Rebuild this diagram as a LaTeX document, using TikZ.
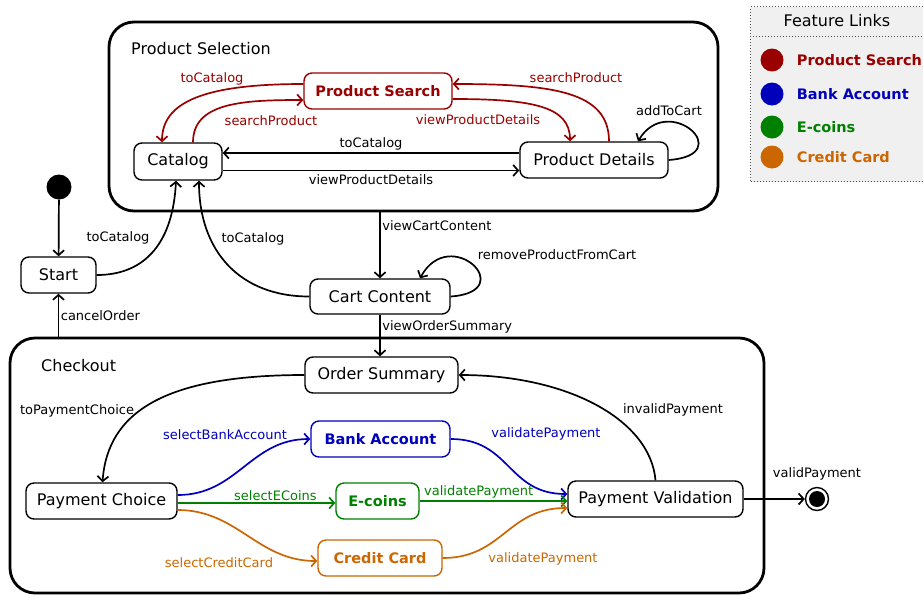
\documentclass[tikz,border=0pt]{standalone}
\usepackage{fontspec}
\setmainfont{DejaVu Sans}
\usepackage{xcolor}
\usetikzlibrary{positioning,arrows.meta}
\definecolor{psred}{HTML}{990000}
\definecolor{bankblue}{HTML}{0000BB}
\definecolor{coingreen}{HTML}{008000}
\definecolor{cardorange}{HTML}{CC6600}
\definecolor{legendgray}{HTML}{F0F0F0}

\begin{document}
\begin{tikzpicture}[
  x=1pt, y=-1pt,
  font=\fontsize{16}{19}\selectfont, >={Straight Barb[length=5pt,width=11pt]},
  state/.style={draw, rounded corners=8pt, line width=1.4pt,
                minimum height=36pt, inner sep=2pt, fill=white},
  feat/.style={state, draw=#1, text=#1,
               font=\fontsize{14.5}{17}\selectfont\bfseries},
  region/.style={draw, rounded corners=25pt, line width=2.8pt},
  title/.style={anchor=west, inner sep=0pt},
  lbl/.style={font=\fontsize{13}{15}\selectfont, inner sep=1.5pt},
  edge/.style={->, line width=1.7pt},
  legendbox/.style={draw=black!70, dotted, line width=1pt, fill=legendgray},
  key/.style={circle, minimum size=23pt, inner sep=0pt},
  keytext/.style={inner sep=1pt, font=\fontsize{14.5}{17}\selectfont\bfseries}
]
\useasboundingbox (0,0) rectangle (923,595);

\node[region, minimum width=609pt, minimum height=189pt] (sel) at (413.5,116.5) {};
\node[title] (seltitle) at (131,49) {Product Selection};
\node[region, minimum width=754pt, minimum height=255pt] (checkout) at (387,465.5) {};
\node[title] (checktitle) at (41,366) {Checkout};

\node[legendbox, anchor=north west, minimum width=180pt, minimum height=175pt]
  (legend) at (750,6) {};
\node (legendtitle) at (837,21) {Feature Links};
\draw[legendbox, fill=none] (750,36) -- (925,36);
\node[key, fill=psred] (key1) at (772,60) {};
\node[keytext, text=psred, right=12pt of key1] (keytext1) {Product Search};
\node[key, fill=bankblue] (key2) at (772,94) {};
\node[keytext, text=bankblue, right=12pt of key2] (keytext2) {Bank Account};
\node[key, fill=coingreen] (key3) at (772,127) {};
\node[keytext, text=coingreen, right=12pt of key3] (keytext3) {E-coins};
\node[key, fill=cardorange] (key4) at (772,157) {};
\node[keytext, text=cardorange, right=12pt of key4] (keytext4) {Credit Card};

\node[circle, fill, minimum size=25pt, inner sep=0pt] (init) at (59,187) {};
\node[state, minimum width=75pt] (start) at (58.5,275) {Start};
\node[state, minimum width=88pt, minimum height=37pt] (catalog) at (178,161.5) {Catalog};
\node[feat=psred, minimum width=148pt] (search) at (378,91) {Product Search};
\node[state, minimum width=148pt] (details) at (594,160) {Product Details};
\node[state, minimum width=140pt, minimum height=35pt] (cart) at (380,296.5) {Cart Content};
\node[state, minimum width=153pt] (order) at (381.5,375) {Order Summary};
\node[state, minimum width=151pt] (choice) at (101.5,501) {Payment Choice};
\node[feat=bankblue, minimum width=139pt] (bank) at (380.5,439) {Bank Account};
\node[feat=coingreen, minimum width=83pt] (ecoins) at (377.5,501) {E-coins};
\node[feat=cardorange, minimum width=124pt] (credit) at (380,558) {Credit Card};
\node[state, minimum width=175pt] (valid) at (655.5,499) {Payment Validation};
\node[circle, draw, line width=1.4pt, minimum size=23pt, inner sep=0pt] (final) at (817,499) {};
\node[circle, fill, minimum size=16pt, inner sep=0pt] (finaldot) at (final) {};

\draw[edge] (init) -- (start);
\draw[edge] (start.east) .. controls +(50,0) and +(-3,60) .. ([xshift=-2pt]catalog.south)
  node[lbl] at (118,238) {toCatalog};
\draw[edge] (cart.west) .. controls +(-70,0) and +(0,70) .. ([xshift=21pt]catalog.south)
  node[lbl] at (253,239) {toCatalog};
\draw[edge, psred] ([xshift=15pt]catalog.north) .. controls +(0,-40) and +(-60,0) .. ([yshift=-9pt]search.west)
  node[lbl] at (271,121) {searchProduct};
\draw[edge, psred] ([yshift=7pt]search.west) .. controls +(-100,0) and +(0,-40) .. ([xshift=-16pt]catalog.north)
  node[lbl] at (212,79) {toCatalog};
\draw[edge, psred] ([yshift=-8pt]search.east) .. controls +(80,0) and +(0,-35) .. ([xshift=-24pt]details.north)
  node[lbl] at (478,120) {viewProductDetails};
\draw[edge, psred] ([xshift=15pt]details.north) .. controls +(0,-50) and +(100,0) .. ([yshift=7pt]search.east)
  node[lbl] at (576,78) {searchProduct};
\draw[edge] ([yshift=7pt]details.west) -- node[lbl, above]{toCatalog}
  ([yshift=7pt]details.west -| catalog.east);
\draw[edge] ([yshift=-9pt]catalog.east) -- node[lbl, below, yshift=-2pt]{viewProductDetails}
  ([yshift=-9pt]catalog.east -| details.west);
\draw[edge] (details.east) .. controls +(70,-5) and +(30,-50) .. ([xshift=44pt]details.north)
  node[lbl] at (669,111) {addToCart};

\draw[edge] (sel.south -| cart.north) -- node[lbl, pos=.2, right]{viewCartContent} (cart.north);
\draw[edge] (cart.east) .. controls +(70,-5) and +(30,-55) .. ([xshift=40pt]cart.north)
  node[lbl] at (557,255) {removeProductFromCart};
\draw[edge] (cart.south) -- node[lbl, pos=.3, right]{viewOrderSummary} (cart.south |- order.north);
\draw[edge] (checkout.north -| start) -- node[lbl, right]{cancelOrder} (start.south);

\draw[edge] (order.west) .. controls +(-140,0) and +(5,-70) .. ([xshift=1pt]choice.north)
  node[lbl] at (77,411) {toPaymentChoice};
\draw[edge, bankblue] ([yshift=6pt]choice.east) .. controls +(60,0) and +(-60,0) .. (bank.west)
  node[lbl] at (225,435) {selectBankAccount};
\draw[edge, coingreen] ([yshift=-2pt]choice.east) -- node[lbl, above, pos=.62]{selectECoins}
  ([yshift=-2pt]choice.east -| ecoins.west);
\draw[edge, cardorange] ([yshift=-9pt]choice.east) .. controls +(60,0) and +(-60,0) .. ([yshift=-3pt]credit.west)
  node[lbl] at (219,563) {selectCreditCard};
\draw[edge, bankblue] (bank.east) .. controls +(60,0) and +(-60,0) .. ([yshift=5pt]valid.west)
  node[lbl] at (546,434) {validatePayment};
\draw[edge, coingreen] (ecoins.east) -- node[lbl, above, pos=.4]{validatePayment}
  (ecoins.east -| valid.west);
\draw[edge, cardorange] (credit.east) .. controls +(60,0) and +(-60,0) .. ([yshift=-9pt]valid.west)
  node[lbl] at (543,559) {validatePayment};
\draw[edge] (valid.north) .. controls +(-5,-60) and +(110,0) .. (order.east)
  node[lbl] at (673,410) {invalidPayment};
\draw[edge] (valid.east) -- (final) node[lbl] at (817,474) {validPayment};
\end{tikzpicture}
\end{document}
